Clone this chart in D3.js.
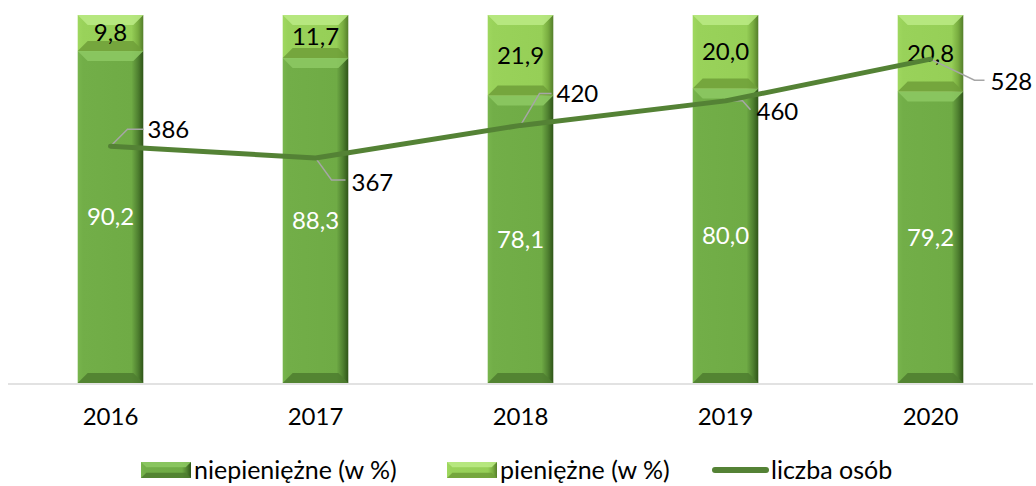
<!DOCTYPE html>
<html>
<head>
<meta charset="utf-8">
<script src="https://cdn.jsdelivr.net/npm/d3@7"></script>
<style>
  body { margin: 0; background: #fff; }
  svg text { font-family: Lato, "Open Sans", sans-serif; }
</style>
</head>
<body>
<svg width="1036" height="486"></svg>
<script>
var years = ["2016", "2017", "2018", "2019", "2020"];
var nonCash = [90.2, 88.3, 78.1, 80.0, 79.2];
var cash = [9.8, 11.7, 21.9, 20.0, 20.8];
var persons = [386, 367, 420, 460, 528];

// leader line offsets for the line labels (bend point, end point, text offset)
var labelPos = [
    {bend: [17, -17], end: [33, -17], tx: 37, ty: -17},
    {bend: [16, 22], end: [30, 22], tx: 36, ty: 25},
    {bend: [19, -32], end: [31, -32], tx: 36, ty: -32},
    {bend: [17, 0], end: [25, 9], tx: 31, ty: 11},
    {bend: [44, 21], end: [54, 21], tx: 60, ty: 22}
];

var svg = d3.select("svg");
var top0 = 15, bottom0 = 383;
var fs = 24;

var x = d3.scaleBand()
    .domain(years)
    .range([8, 1033])
    .paddingInner(0.68)
    .paddingOuter(0.34);

var y = d3.scaleLinear().domain([0, 100]).range([bottom0, top0]);
var y2 = d3.scaleLinear().domain([0, 600]).range([bottom0, top0]);

// gradients
var defs = svg.append("defs");
function hGrad(id, stops) {
    var g = defs.append("linearGradient").attr("id", id)
        .attr("x1", "0").attr("x2", "1").attr("y1", "0").attr("y2", "0");
    stops.forEach(function (s) {
        g.append("stop").attr("offset", s[0]).attr("stop-color", s[1]);
    });
}
hGrad("gLow", [[0, "#78b54d"], [0.08, "#72ae48"], [0.82, "#6fab45"], [0.92, "#4f8030"], [1, "#2f5518"]]);
hGrad("gHigh", [[0, "#9fd85f"], [0.08, "#99d25a"], [0.82, "#96cf57"], [0.92, "#79ad40"], [1, "#547e2a"]]);

var colors = {
    low: {fill: "url(#gLow)", top: "#8cc862", bottom: "#4e7d2f"},
    high: {fill: "url(#gHigh)", top: "#b9e983", bottom: "#6e9f38"}
};

function bevelRect(g, x0, y0, w, h, c) {
    var b = Math.min(10, h / 3);
    g.append("rect").attr("x", x0).attr("y", y0).attr("width", w).attr("height", h)
        .attr("fill", c.fill);
    g.append("path")
        .attr("d", "M" + x0 + "," + y0 + "H" + (x0 + w) + "L" + (x0 + w - b) + "," + (y0 + b) +
            "H" + (x0 + b) + "Z")
        .attr("fill", c.top).attr("opacity", 0.9);
    g.append("path")
        .attr("d", "M" + x0 + "," + (y0 + h) + "H" + (x0 + w) + "L" + (x0 + w - b) + "," + (y0 + h - b) +
            "H" + (x0 + b) + "Z")
        .attr("fill", c.bottom).attr("opacity", 0.85);
}

// axis line
svg.append("line")
    .attr("x1", 8).attr("x2", 1033)
    .attr("y1", bottom0 + 1).attr("y2", bottom0 + 1)
    .attr("stroke", "#d9d9d9").attr("stroke-width", 1.5);

var bars = svg.append("g");
years.forEach(function (yr, i) {
    var g = bars.append("g");
    var x0 = x(yr), w = x.bandwidth();
    bevelRect(g, x0, y(nonCash[i]), w, y(0) - y(nonCash[i]), colors.low);
    bevelRect(g, x0, y(100), w, y(nonCash[i]) - y(100), colors.high);
    g.append("text")
        .attr("x", x0 + w / 2).attr("y", (y(0) + y(nonCash[i])) / 2)
        .attr("dy", "0.35em").attr("text-anchor", "middle")
        .attr("font-size", fs).attr("fill", "#fff")
        .text(nonCash[i].toFixed(1).replace(".", ","));
    g.append("text")
        .attr("x", x0 + w / 2).attr("y", (y(100) + y(nonCash[i])) / 2)
        .attr("dy", "0.35em").attr("text-anchor", "middle")
        .attr("font-size", fs).attr("fill", "#000")
        .text(cash[i].toFixed(1).replace(".", ","));
});

// x labels
svg.append("g").selectAll("text")
    .data(years)
    .enter().append("text")
    .attr("x", function (d) { return x(d) + x.bandwidth() / 2; })
    .attr("y", 417)
    .attr("dy", "0.35em")
    .attr("text-anchor", "middle")
    .attr("font-size", fs)
    .text(function (d) { return d; });

// line series
var cx = function (i) { return x(years[i]) + x.bandwidth() / 2; };
var line = d3.line()
    .x(function (d, i) { return cx(i); })
    .y(function (d) { return y2(d); });

// leader lines
var leaders = svg.append("g");
persons.forEach(function (v, i) {
    var px = cx(i), py = y2(v), p = labelPos[i];
    leaders.append("path")
        .attr("d", "M" + px + "," + py + "L" + (px + p.bend[0]) + "," + (py + p.bend[1]) +
            "L" + (px + p.end[0]) + "," + (py + p.end[1]))
        .attr("fill", "none").attr("stroke", "#a6a6a6").attr("stroke-width", 1.5);
});

svg.append("path")
    .datum(persons)
    .attr("d", line)
    .attr("fill", "none")
    .attr("stroke", "#548235")
    .attr("stroke-width", 5)
    .attr("stroke-linecap", "round")
    .attr("stroke-linejoin", "round");

svg.append("g").selectAll("text")
    .data(persons)
    .enter().append("text")
    .attr("x", function (d, i) { return cx(i) + labelPos[i].tx; })
    .attr("y", function (d, i) { return y2(d) + labelPos[i].ty; })
    .attr("dy", "0.35em")
    .attr("font-size", fs)
    .text(function (d) { return d; });

// legend
var legend = svg.append("g");
var lw = 50, lh = 16, ly = 462, lfs = 25;
var lg1 = legend.append("g");
bevelRect(lg1, 141, ly, lw, lh, colors.low);
lg1.append("text").attr("x", 194).attr("y", ly + lh / 2).attr("dy", "0.35em")
    .attr("font-size", lfs).text("niepieniężne (w %)");
var lg2 = legend.append("g");
bevelRect(lg2, 447, ly, lw, lh, colors.high);
lg2.append("text").attr("x", 500).attr("y", ly + lh / 2).attr("dy", "0.35em")
    .attr("font-size", lfs).text("pieniężne (w %)");
legend.append("line")
    .attr("x1", 715).attr("x2", 766).attr("y1", ly + lh / 2).attr("y2", ly + lh / 2)
    .attr("stroke", "#548235").attr("stroke-width", 6).attr("stroke-linecap", "round");
legend.append("text").attr("x", 771).attr("y", ly + lh / 2).attr("dy", "0.35em")
    .attr("font-size", lfs).text("liczba osób");
</script>
</body>
</html>
